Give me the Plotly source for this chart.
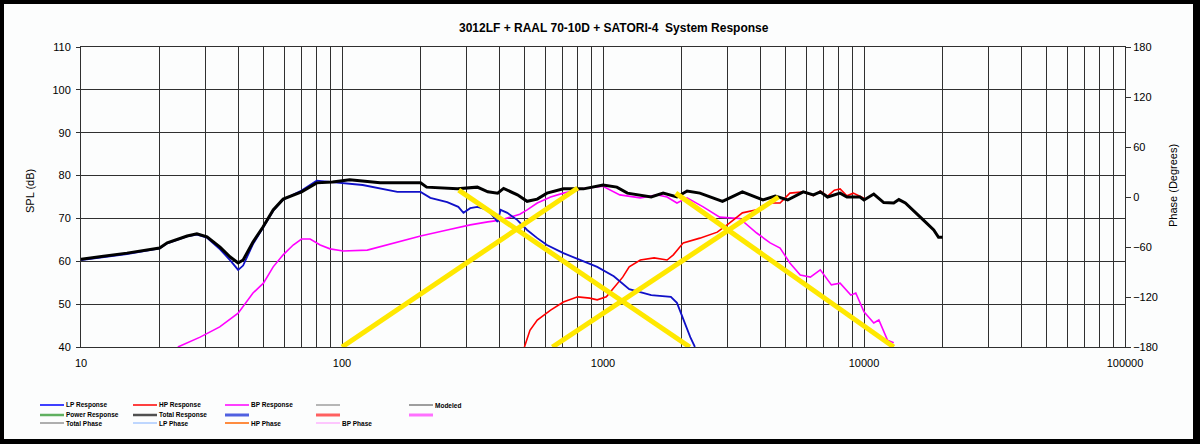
import plotly.graph_objects as go

# ---- data ----
total_f = [10, 15, 20, 21.4, 25.5, 27.8, 30.4, 34.1, 37.3, 40, 41.8, 45.6, 49.8, 54.5, 59.5, 65, 70, 80,
           92, 107, 140, 200, 211, 277, 330, 362, 395, 416, 470, 512, 560, 610, 705, 842, 1000, 1130,
           1240, 1530, 1700, 1920, 2100, 2350, 2870, 3420, 4100, 4570, 5100, 5850, 6400, 6800, 7250,
           8100, 8600, 9650, 10000, 10900, 11900, 13000, 13600, 14400, 15600, 16900, 18500, 19300, 20000]
total_db = [60.5, 61.9, 63.1, 64.3, 65.9, 66.4, 65.7, 63.3, 61.0, 59.6, 60.3, 64.5, 68.0, 72.0, 74.5, 75.5,
            76.2, 78.3, 78.5, 79.0, 78.3, 78.3, 77.3, 76.9, 77.3, 76.2, 75.9, 77.0, 75.5, 74.0, 74.5, 75.9,
            76.9, 76.9, 77.8, 77.3, 75.9, 75.0, 75.9, 75.0, 76.4, 75.9, 74.0, 76.2, 74.3, 75.2, 74.3, 76.2,
            75.5, 76.2, 75.0, 75.9, 75.0, 75.0, 74.3, 75.7, 73.7, 73.6, 74.4, 73.6, 71.5, 69.6, 67.3, 65.6,
            65.6]

lp_f = [10, 15, 20, 21.4, 25.5, 27.8, 30.4, 34.1, 37.3, 40, 41.8, 45.6, 49.8, 54.5, 59.5, 65, 70, 80, 90,
        120, 163, 200, 218, 253, 279, 292, 310, 330, 362, 395, 405, 430, 470, 512, 560, 610, 705, 820,
        950, 1100, 1260, 1530, 1820, 1920, 2030, 2160, 2250]
lp_db = [60.3, 61.7, 63.0, 64.2, 65.8, 66.2, 65.5, 62.8, 60.2, 58.0, 59.0, 64.0, 67.8, 71.8, 74.4, 75.5,
         76.5, 78.8, 78.5, 77.8, 76.2, 76.2, 74.8, 73.8, 72.7, 71.3, 72.4, 72.7, 72.0, 69.2, 72.0, 71.3,
         69.6, 67.3, 65.4, 63.8, 61.9, 60.3, 58.7, 56.5, 53.5, 52.1, 51.7, 50.3, 46.3, 42.3, 40.0]

hp_f = [500, 525, 560, 630, 705, 800, 890, 950, 1030, 1130, 1190, 1260, 1390, 1570, 1760, 1860, 2030,
        2350, 2740, 3050, 3420, 3880, 4370, 4770, 5200, 5850, 6400, 6800, 7250, 7700, 8100, 8600, 9100,
        10000]
hp_db = [40.0, 43.9, 46.3, 48.6, 50.5, 51.7, 51.4, 51.0, 51.7, 54.5, 56.3, 58.7, 60.3, 60.8, 60.3, 61.5,
         64.3, 65.4, 66.8, 68.9, 71.3, 72.0, 73.6, 73.6, 75.9, 76.2, 75.3, 76.4, 75.2, 76.6, 76.9, 75.3,
         75.9, 74.7]

bp_f = [23.5, 28.6, 34, 40, 45.6, 50, 54.5, 59.5, 65, 70, 75.5, 82.5, 90, 101, 125, 163, 200, 253, 310,
        362, 405, 480, 512, 560, 630, 705, 842, 1000, 1160, 1390, 1620, 1760, 1920, 2100, 2420, 2800,
        3340, 3880, 4370, 4770, 5200, 5700, 6230, 6800, 7500, 8100, 8900, 9300, 10000, 10900, 11400,
        12300, 13000]
bp_db = [40.0, 42.3, 44.7, 47.9, 52.6, 54.9, 58.7, 61.5, 63.8, 65.2, 65.2, 63.8, 62.9, 62.4, 62.6, 64.5,
         65.9, 67.3, 68.5, 69.2, 69.6, 71.0, 72.0, 73.6, 75.0, 75.9, 77.0, 77.5, 75.5, 74.8, 75.5, 75.0,
         73.6, 74.8, 72.7, 70.3, 70.0, 66.6, 64.3, 63.1, 59.6, 56.8, 56.3, 58.0, 54.5, 54.9, 52.1, 52.6,
         48.2, 45.6, 46.3, 41.6, 41.0]

# yellow crossover slopes (start / end)
cross_f = [[100, 800], [280, 2150], [640, 4700], [1900, 13000]]
cross_db = [[40, 77.1], [76.6, 40], [40, 75.0], [75.9, 40]]

x_ticks = [10, 100, 1000, 10000, 100000]
x_minor = [m * 10 ** d for d in range(1, 5) for m in range(2, 10)]

legend_names = [["LP Response", "HP Response", "BP Response", "", "Modeled"],
                ["Power Response", "Total Response", "", "", ""],
                ["Total Phase", "LP Phase", "HP Phase", "BP Phase", None]]
legend_colors = [["#0000ff", "#ff0000", "#ff00ff", "#707070", "#404040"],
                 ["#60b060", "#505050", "#5060e0", "#ff6060", "#ff70ff"],
                 ["#606060", "#80b0ff", "#ff6600", "#ff90ff", None]]
legend_widths = [[1.5, 1.5, 1.5, 1, 1],
                 [2.5, 2.5, 3, 3, 3],
                 [1, 1, 1.5, 1, None]]

# ---- geometry of the canvas ----
W, H = 1200, 444
L, R, T, B = 81, 75, 47, 97
PW, PH = W - L - R, H - T - B


def px(x):
    return (x - L) / PW


def py(y):
    return (H - B - y) / PH


fig = go.Figure()

fig.add_trace(go.Scatter(x=bp_f, y=bp_db, mode="lines", line=dict(color="#ff00ff", width=1.6)))
fig.add_trace(go.Scatter(x=hp_f, y=hp_db, mode="lines", line=dict(color="#ff0000", width=1.6)))
fig.add_trace(go.Scatter(x=lp_f, y=lp_db, mode="lines", line=dict(color="#1010c8", width=1.8)))
fig.add_trace(go.Scatter(x=total_f, y=total_db, mode="lines", line=dict(color="#000000", width=3)))
for cf, cd in zip(cross_f, cross_db):
    fig.add_trace(go.Scatter(x=cf, y=cd, mode="lines", line=dict(color="#ffe800", width=5)))

# dummy trace so the right axis is drawn
fig.add_trace(go.Scatter(x=[1000], y=[0], yaxis="y2", mode="markers", marker=dict(opacity=0)))

shapes = [dict(type="rect", xref="paper", yref="paper", layer="below",
               x0=px(4), x1=px(1193), y0=py(439), y1=py(4),
               fillcolor="#fcfdfd", line=dict(width=0))]
annotations = []

# manual legend grid
col_x = [40, 133, 225, 316, 409]
row_y = [405, 415, 423]
for r, row in enumerate(legend_names):
    for c, name in enumerate(row):
        if name is None:
            continue
        x0 = col_x[c]
        shapes.append(dict(type="line", xref="paper", yref="paper",
                           x0=px(x0), x1=px(x0 + 24), y0=py(row_y[r]), y1=py(row_y[r]),
                           line=dict(color=legend_colors[r][c], width=legend_widths[r][c])))
        if name:
            annotations.append(dict(text="<b>" + name + "</b>", xref="paper", yref="paper",
                                    x=px(x0 + 24), y=py(row_y[r]),
                                    xanchor="left", yanchor="middle", showarrow=False,
                                    font=dict(size=6.5, color="#000", family="Arial")))

annotations.append(dict(text="<b>3012LF + RAAL 70-10D + SATORI-4&nbsp;&nbsp;System Response</b>",
                        xref="paper", yref="paper", x=px(614), y=py(28), xanchor="center",
                        yanchor="middle", showarrow=False,
                        font=dict(size=12, color="#000", family="Arial")))
annotations.append(dict(text="SPL (dB)", xref="paper", yref="paper", x=px(30), y=py(191),
                        textangle=-90, xanchor="center", yanchor="middle", showarrow=False,
                        font=dict(size=11, color="#000", family="Arial")))
annotations.append(dict(text="Phase (Degrees)", xref="paper", yref="paper", x=px(1173), y=py(186),
                        textangle=-90, xanchor="center", yanchor="middle", showarrow=False,
                        font=dict(size=11, color="#000", family="Arial")))

fig.update_layout(
    width=W, height=H,
    margin=dict(l=L, r=R, t=T, b=B, pad=0),
    paper_bgcolor="#000000",
    plot_bgcolor="#fcfdfd",
    showlegend=False,
    font=dict(family="Arial", size=11, color="#000"),
    xaxis=dict(type="log", range=[1, 5], tickvals=x_ticks, ticktext=[str(v) for v in x_ticks],
               showgrid=True, gridcolor="#303030", gridwidth=1, ticks="", ticklabelstandoff=6,
               showline=True, linecolor="#303030", linewidth=1, mirror=True, zeroline=False,
               minor=dict(tickvals=x_minor, showgrid=True, gridcolor="#303030", gridwidth=1, ticks="")),
    yaxis=dict(range=[40, 110], dtick=10, showgrid=True, gridcolor="#303030", gridwidth=1,
               ticks="outside", ticklen=4, tickcolor="#303030", ticklabelstandoff=3,
               showline=True, linecolor="#303030", linewidth=1, zeroline=False),
    yaxis2=dict(range=[-180, 180], dtick=60, overlaying="y", side="right", showgrid=False,
                ticks="outside", ticklen=5, tickcolor="#303030", zeroline=False,
                showline=True, linecolor="#303030", linewidth=1),
    shapes=shapes,
    annotations=annotations,
)

fig.write_html("out.html", config={"displayModeBar": False},
               post_script="document.body.style.margin='0';")
